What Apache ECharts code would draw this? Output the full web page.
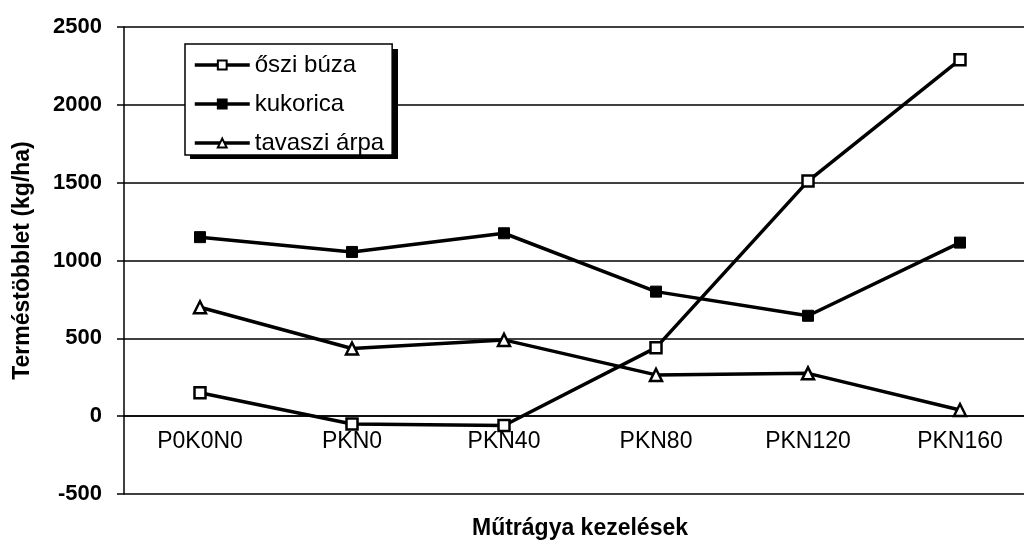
<!DOCTYPE html>
<html>
<head>
<meta charset="utf-8">
<script src="https://cdn.jsdelivr.net/npm/echarts@6/dist/echarts.min.js"></script>
<style>
  html, body { margin: 0; padding: 0; background: #fff; }
  #chart { width: 1024px; height: 547px; }
</style>
</head>
<body>
<div id="chart"></div>
<script>
// kezelések
const categories = ['P0K0N0', 'PKN0', 'PKN40', 'PKN80', 'PKN120', 'PKN160']
// terméstöbblet kg/ha
const osziBuza = [150, -50, -60, 440, 1510, 2290]
const kukorica = [1150, 1055, 1175, 800, 645, 1115]
const tavasziArpa = [700, 435, 490, 265, 275, 40]

const font = '"Liberation Sans", Arial, sans-serif'

const yMin = -500
const yMax = 2500
const gridTop = 27
const gridBottom = 53
const plotHeight = 547 - gridTop - gridBottom
// kategória tengely a 0 vonalra tolva
const zeroOffset = plotHeight * (0 - yMin) / (yMax - yMin)

const myChart = echarts.init(document.getElementById('chart'))
myChart.setOption({
  animation: false,
  textStyle: { fontFamily: font, color: '#000' },
  grid: {
    left: 124,
    right: -12,
    top: gridTop,
    bottom: gridBottom,
    containLabel: false,
    outerBoundsMode: 'none'
  },
  legend: {
    orient: 'vertical',
    left: 185,
    top: 44,
    padding: [9, 8, 0, 8],
    itemGap: 15,
    itemWidth: 55,
    itemHeight: 11,
    backgroundColor: '#fff',
    borderColor: '#000',
    borderWidth: 1.5,
    borderRadius: 0,
    z: 5,
    lineStyle: { width: 3.5, color: '#000' },
    textStyle: {
      fontFamily: font,
      fontSize: 24,
      color: '#000'
    },
    data: ['őszi búza', 'kukorica', 'tavaszi árpa']
  },
  xAxis: {
    type: 'category',
    data: categories,
    boundaryGap: true,
    position: 'bottom',
    offset: -zeroOffset,
    axisLine: {
      onZero: false,
      lineStyle: { color: '#000', width: 1.5 }
    },
    axisTick: { show: false },
    axisLabel: {
      margin: 14,
      fontSize: 23,
      color: '#000',
      fontFamily: font
    }
  },
  yAxis: {
    type: 'value',
    min: yMin,
    max: yMax,
    interval: 500,
    name: 'Terméstöbblet (kg/ha)',
    nameLocation: 'middle',
    nameRotate: 90,
    nameGap: 90,
    nameTextStyle: {
      fontSize: 23,
      fontWeight: 'bold',
      color: '#000',
      fontFamily: font
    },
    axisLine: {
      show: true,
      lineStyle: { color: '#000', width: 1.5 }
    },
    axisTick: {
      show: true,
      length: 7,
      lineStyle: { color: '#000', width: 1.5 }
    },
    axisLabel: {
      margin: 22,
      fontSize: 22,
      fontWeight: 'bold',
      color: '#000',
      fontFamily: font,
      formatter: v => String(v)
    },
    // rácsvonalak
    splitLine: {
      lineStyle: { color: '#000', width: 1.5 }
    }
  },
  graphic: [
    {
      // jelmagyarázat árnyéka
      type: 'rect',
      z: 1,
      shape: { x: 190, y: 49, width: 208, height: 110 },
      style: { fill: '#000' }
    },
    {
      type: 'text',
      x: 580,
      y: 529,
      style: {
        text: 'Műtrágya kezelések',
        align: 'center',
        verticalAlign: 'middle',
        font: 'bold 23px ' + font,
        fill: '#000'
      }
    }
  ],
  series: [
    {
      name: 'őszi búza',
      type: 'line',
      data: osziBuza,
      symbol: 'rect',
      symbolSize: 11,
      lineStyle: { color: '#000', width: 3.5 },
      itemStyle: { color: '#fff', borderColor: '#000', borderWidth: 2.5 }
    },
    {
      name: 'kukorica',
      type: 'line',
      data: kukorica,
      symbol: 'rect',
      symbolSize: 11,
      lineStyle: { color: '#000', width: 3.5 },
      itemStyle: { color: '#000', borderColor: '#000', borderWidth: 1 }
    },
    {
      name: 'tavaszi árpa',
      type: 'line',
      data: tavasziArpa,
      symbol: 'triangle',
      symbolSize: 12,
      lineStyle: { color: '#000', width: 3.5 },
      itemStyle: { color: '#fff', borderColor: '#000', borderWidth: 2.5 }
    }
  ]
})
</script>
</body>
</html>
